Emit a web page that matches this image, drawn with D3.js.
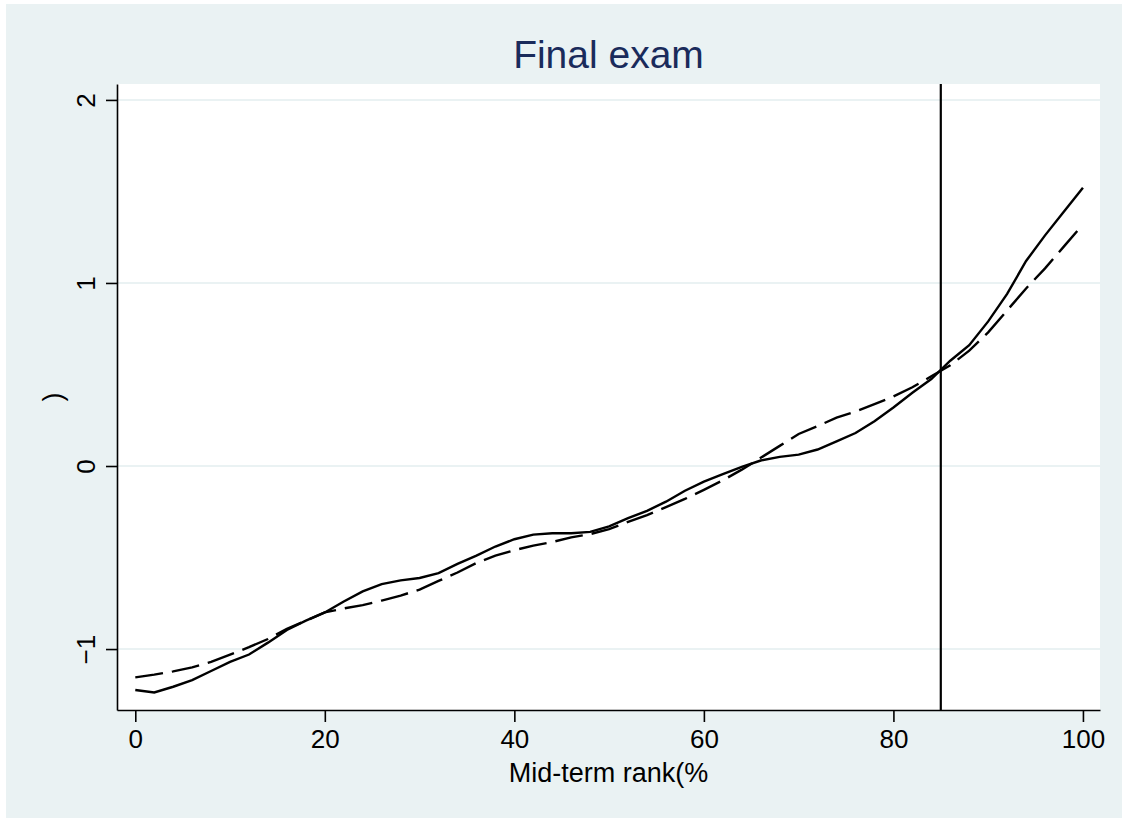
<!DOCTYPE html>
<html>
<head>
<meta charset="utf-8">
<script src="https://cdn.jsdelivr.net/npm/d3@7"></script>
<style>
  html, body { margin: 0; padding: 0; background: #fff; }
  svg text { font-family: "Liberation Sans", Arial, Helvetica, sans-serif; }
</style>
</head>
<body>
<div id="chart"></div>
<script>
// mid-term rank (%) at which both curves are read
const rank = [0, 2, 4, 6, 8, 10, 12, 14, 16, 18, 20, 22, 24, 26, 28, 30, 32, 34, 36, 38, 40,
  42, 44, 46, 48, 50, 52, 54, 56, 58, 60, 62, 64, 66, 68, 70, 72, 74, 76, 78, 80,
  82, 84, 86, 88, 90, 92, 94, 96, 98, 100];

// solid curve
const solidValues = [-1.224, -1.237, -1.206, -1.17, -1.12, -1.07, -1.03, -0.965, -0.896, -0.845, -0.80,
  -0.74, -0.685, -0.645, -0.625, -0.612, -0.585, -0.535, -0.49, -0.44, -0.40,
  -0.375, -0.367, -0.367, -0.36, -0.33, -0.285, -0.245, -0.195, -0.135, -0.085,
  -0.045, -0.005, 0.03, 0.05, 0.062, 0.09, 0.135, 0.18, 0.245, 0.32,
  0.40, 0.475, 0.575, 0.66, 0.79, 0.94, 1.12, 1.26, 1.39, 1.52];

// dashed curve
const dashedValues = [-1.155, -1.14, -1.122, -1.10, -1.07, -1.03, -0.99, -0.945, -0.89, -0.845, -0.80,
  -0.778, -0.76, -0.735, -0.708, -0.675, -0.628, -0.582, -0.53, -0.49, -0.46,
  -0.435, -0.415, -0.39, -0.372, -0.345, -0.305, -0.268, -0.225, -0.18, -0.13,
  -0.078, -0.02, 0.045, 0.11, 0.175, 0.218, 0.264, 0.298, 0.338, 0.38,
  0.43, 0.49, 0.55, 0.63, 0.73, 0.85, 0.97, 1.08, 1.2, 1.32];

const xTicks = [0, 20, 40, 60, 80, 100];
const yTicks = [-1, 0, 1, 2];
const cutoff = 85;

const titleText = "Final exam";
const xTitle = "Mid-term rank(%";
const yTitle = ")";

const W = 1122, H = 818;
const plot = { left: 117, right: 1100, top: 84, bottom: 710 };

const svg = d3.select("#chart").append("svg")
    .attr("width", W)
    .attr("height", H);

// graph region background
svg.append("rect")
    .attr("x", 6).attr("y", 4)
    .attr("width", W - 6).attr("height", H - 4)
    .attr("fill", "#eaf2f3");

// plot region
svg.append("rect")
    .attr("x", plot.left).attr("y", plot.top)
    .attr("width", plot.right - plot.left)
    .attr("height", plot.bottom - plot.top)
    .attr("fill", "#fff");

const x = d3.scaleLinear().domain([-1.93, 101.8]).range([plot.left, plot.right]);
const y = d3.scaleLinear().domain([-1.333, 2.087]).range([plot.bottom, plot.top]);

// horizontal grid lines
svg.append("g").selectAll("line")
    .data(yTicks)
    .enter().append("line")
    .attr("x1", plot.left).attr("x2", plot.right)
    .attr("y1", d => y(d)).attr("y2", d => y(d))
    .attr("stroke", "#eaf2f3")
    .attr("stroke-width", 2);

// curves
const line = d3.line()
    .x((d, i) => x(rank[i]))
    .y(d => y(d));

svg.append("path")
    .datum(dashedValues)
    .attr("d", line)
    .attr("fill", "none")
    .attr("stroke", "#000")
    .attr("stroke-width", 2.4)
    .attr("stroke-dasharray", "28,9");

svg.append("path")
    .datum(solidValues)
    .attr("d", line)
    .attr("fill", "none")
    .attr("stroke", "#000")
    .attr("stroke-width", 2.4);

// cutoff line
svg.append("line")
    .attr("x1", x(cutoff)).attr("x2", x(cutoff))
    .attr("y1", plot.top).attr("y2", plot.bottom)
    .attr("stroke", "#000")
    .attr("stroke-width", 2.2);

// y axis, labels turned like Stata does
const yAxis = svg.append("g")
    .attr("transform", `translate(${plot.left},0)`)
    .call(d3.axisLeft(y).tickValues(yTicks).tickSize(11).tickSizeOuter(0).tickFormat(d3.format("d")));
yAxis.select(".domain").attr("stroke", "#000").attr("stroke-width", 1.6);
yAxis.selectAll(".tick line").attr("stroke", "#000").attr("stroke-width", 1.6);
yAxis.selectAll(".tick text")
    .attr("x", null).attr("dy", null)
    .attr("text-anchor", "middle")
    .attr("transform", "translate(-22,0) rotate(-90)")
    .attr("fill", "#000")
    .style("font-size", "26px");

// x axis
const xAxis = svg.append("g")
    .attr("transform", `translate(0,${plot.bottom})`)
    .call(d3.axisBottom(x).tickValues(xTicks).tickSize(12).tickSizeOuter(0).tickFormat(d3.format("d")));
xAxis.select(".domain").attr("stroke", "#000").attr("stroke-width", 1.6);
xAxis.selectAll(".tick line").attr("stroke", "#000").attr("stroke-width", 1.6);
xAxis.selectAll(".tick text")
    .attr("y", 38).attr("dy", null)
    .attr("fill", "#000")
    .style("font-size", "26px");

// titles
svg.append("text")
    .attr("x", (plot.left + plot.right) / 2)
    .attr("y", 68)
    .attr("text-anchor", "middle")
    .attr("fill", "#1a2b5b")
    .style("font-size", "39px")
    .text(titleText);

svg.append("text")
    .attr("x", (plot.left + plot.right) / 2)
    .attr("y", 782)
    .attr("text-anchor", "middle")
    .attr("fill", "#000")
    .style("font-size", "27px")
    .text(xTitle);

svg.append("text")
    .attr("transform", "translate(62,397) rotate(-90)")
    .attr("text-anchor", "middle")
    .attr("fill", "#000")
    .style("font-size", "27px")
    .text(yTitle);
</script>
</body>
</html>
